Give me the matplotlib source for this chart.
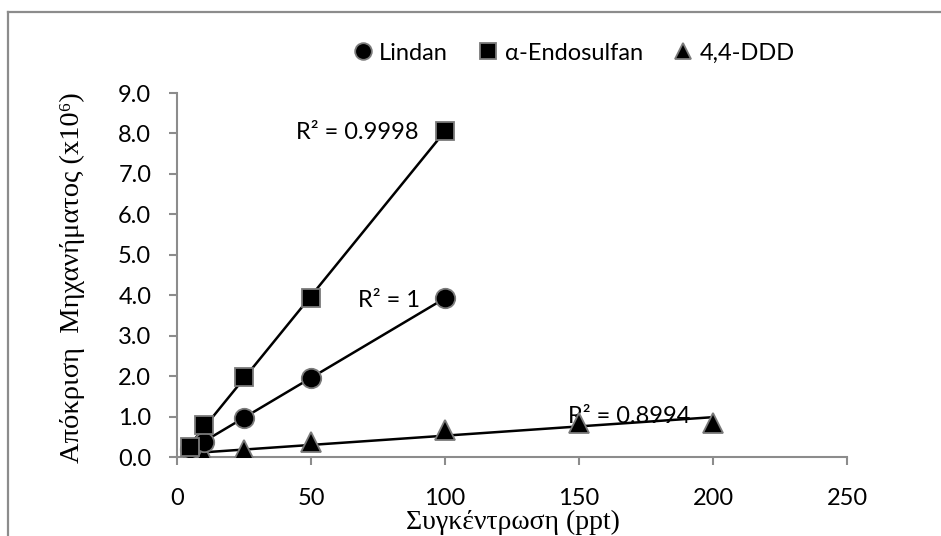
import numpy as np
import matplotlib
matplotlib.use("Agg")
import matplotlib.pyplot as plt
from matplotlib.lines import Line2D

# Data
lindan_x = [5, 10, 25, 50, 100]
lindan_y = [0.20, 0.37, 0.97, 1.95, 3.93]
endo_x = [5, 10, 25, 50, 100]
endo_y = [0.25, 0.79, 1.97, 3.93, 8.07]
ddd_x = [5, 10, 25, 50, 100, 150, 200]
ddd_y = [0.02, 0.05, 0.17, 0.37, 0.67, 0.84, 0.84]
series_names = ["Lindan", "α-Endosulfan", "4,4-DDD"]
r2_labels = ["R² = 1", "R² = 0.9998", "R² = 0.8994"]
xticks = [0, 50, 100, 150, 200, 250]
yticks = [0, 1, 2, 3, 4, 5, 6, 7, 8, 9]

W, H = 941, 536
fig = plt.figure(figsize=(W / 100, H / 100), dpi=100)
ax = fig.add_axes([177 / W, 1 - 457 / H, (847 - 177) / W, (457 - 93) / H])

sans = ["Lato", "DejaVu Sans"]
serif = ["Liberation Serif", "DejaVu Serif"]
FS = 17

# outer border
fig.add_artist(Line2D([8 / W, 8 / W], [0, 1 - 12 / H], transform=fig.transFigure, color="#8c8c8c", lw=1.6))
fig.add_artist(Line2D([8 / W, 1], [1 - 12 / H, 1 - 12 / H], transform=fig.transFigure, color="#8c8c8c", lw=1.6))

def trend(x, y):
    p = np.polyfit(x, y, 1)
    xs = np.array([min(x), max(x)])
    ax.plot(xs, np.polyval(p, xs), color="black", lw=1.8, zorder=2)

mk = dict(linestyle="none", markerfacecolor="black", markeredgecolor="#7a7a7a", markeredgewidth=1.3)
ax.plot(ddd_x, ddd_y, marker="^", markersize=14.5, zorder=3, **mk)
ax.plot(lindan_x, lindan_y, marker="o", markersize=14, zorder=3, **mk)
ax.plot(endo_x, endo_y, marker="s", markersize=13.5, zorder=3, **mk)
trend(lindan_x, lindan_y)
trend(endo_x, endo_y)
trend(ddd_x, ddd_y)

ax.text(90.5, 3.88, r2_labels[0], ha="right", va="center", fontsize=FS, family=sans, zorder=1)
ax.text(90.0, 8.02, r2_labels[1], ha="right", va="center", fontsize=FS, family=sans, zorder=1)
ax.text(145.9, 0.99, r2_labels[2], ha="left", va="center", fontsize=FS, family=sans, zorder=1)

ax.set_xlim(0, 250)
ax.set_ylim(0, 9)
ax.set_xticks(xticks)
ax.set_yticks(yticks)
ax.set_yticklabels([f"{v:.1f}" for v in yticks])
for s in ["top", "right"]:
    ax.spines[s].set_visible(False)
for s in ["left", "bottom"]:
    ax.spines[s].set_color("#8c8c8c")
    ax.spines[s].set_linewidth(1.5)
ax.tick_params(axis="both", colors="#8c8c8c", length=5.5, width=1.5, labelcolor="black", labelsize=FS)
ax.tick_params(axis="x", pad=17)
ax.tick_params(axis="y", pad=13)
for lab in ax.get_xticklabels() + ax.get_yticklabels():
    lab.set_family(sans)

fig.text(513 / W, 1 - 529 / H, "Συγκέντρωση (ppt)", ha="center", va="baseline", fontsize=20, family=serif)
fig.text(72 / W, 1 - 278 / H, "Απόκριση  Μηχανήματος (x10⁶)", ha="center", va="center", rotation=90,
         fontsize=20.5, family=serif)

mk2 = dict(mk)
handles = [
    Line2D([], [], marker="o", markersize=12, **mk2),
    Line2D([], [], marker="s", markersize=11, **mk2),
    Line2D([], [], marker="^", markersize=12, **mk2),
]
fig.legend(handles, series_names, loc="center", bbox_to_anchor=(574 / W, 1 - 53 / H), ncol=3, frameon=False,
           prop={"family": sans, "size": FS}, handlelength=0.8, handletextpad=0.3, columnspacing=1.3)

fig.savefig("out.png", dpi=100)
